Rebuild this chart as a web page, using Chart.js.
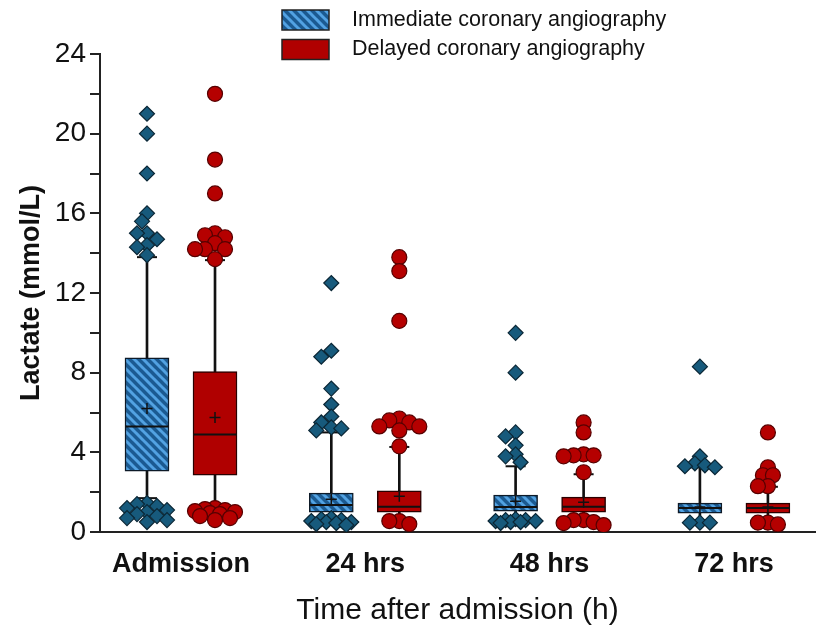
<!DOCTYPE html>
<html><head><meta charset="utf-8">
<style>html,body{margin:0;padding:0;background:#fff;}</style>
<script src="https://cdn.jsdelivr.net/npm/chart.js@4.4.0/dist/chart.umd.min.js"></script>
</head><body>
<canvas id="c" width="816" height="630"></canvas>
<script>
const categories = ['Admission', '24 hrs', '48 hrs', '72 hrs'];
const seriesNames = ['Immediate coronary angiography', 'Delayed coronary angiography'];
const yTickLabels = [0, 4, 8, 12, 16, 20, 24];

// Immediate coronary angiography
const immQ1 = [3.05, 1.0, 1.05, 0.95];
const immMedian = [5.3, 1.35, 1.25, 1.2];
const immQ3 = [8.75, 1.95, 1.85, 1.45];
const immWhiskerLow = [1.7, 0.75, 0.7, 0.6];
const immWhiskerHigh = [13.8, 5.0, 3.3, 3.25];
const immMean = [6.2, 1.65, 1.55, 1.25];
const immOutliers = [
  [21, 20, 18, 16, 15.6, 15, 15, 14.7, 14.4, 14.3, 13.9, 1.45, 1.4, 1.3, 1.2, 1.1, 1.0, 0.9, 0.8, 0.7, 0.6, 0.5],
  [12.5, 9.1, 8.8, 7.2, 6.4, 5.8, 5.5, 5.25, 5.2, 5.1, 0.7, 0.65, 0.6, 0.55, 0.5, 0.5, 0.45, 0.4, 0.35],
  [10, 8, 5.0, 4.8, 4.35, 3.9, 3.8, 3.5, 0.65, 0.6, 0.6, 0.55, 0.55, 0.5, 0.5, 0.45],
  [8.3, 3.8, 3.45, 3.35, 3.3, 3.25, 0.47, 0.47, 0.47]
];

// Delayed coronary angiography
const delQ1 = [2.85, 1.0, 1.0, 0.95];
const delMedian = [4.9, 1.27, 1.27, 1.2];
const delQ3 = [8.05, 2.07, 1.75, 1.45];
const delWhiskerLow = [1.25, 0.7, 0.7, 0.6];
const delWhiskerHigh = [13.65, 4.27, 2.9, 2.27];
const delMean = [5.75, 1.8, 1.5, 1.25];
const delOutliers = [
  [22, 18.7, 17, 15, 14.9, 14.8, 14.5, 14.2, 14.2, 14.2, 13.7, 1.2, 1.15, 1.1, 1.05, 1.0, 0.95, 0.9, 0.8, 0.7, 0.6],
  [13.8, 13.1, 10.6, 5.7, 5.6, 5.5, 5.3, 5.3, 5.1, 4.3, 0.55, 0.55, 0.4],
  [5.5, 5.0, 3.9, 3.85, 3.85, 3.8, 3.0, 0.6, 0.6, 0.5, 0.45, 0.35],
  [5.0, 3.25, 2.85, 2.85, 2.3, 2.3, 0.47, 0.47, 0.38]
];

// ---- layout / style (not data) ----
const FONT = '"Liberation Sans", Arial, sans-serif';
const X_MIN = -0.4395, X_MAX = 3.44;
const SHIFT = 0.1845;               // half distance between the two boxes of a group
const PX_X = 715 / (X_MAX - X_MIN); // approx px per x unit
const PX_Y = 478 / 24;              // approx px per y unit
const MAX_OFF = 22;                 // px, swarm spread limit (half box width)

const cv = document.getElementById('c');
const ctx = cv.getContext('2d');

function makeHatch() {
  const s = 9;
  const c = document.createElement('canvas');
  c.width = s; c.height = s;
  const g = c.getContext('2d');
  g.fillStyle = '#1b5a91';
  g.fillRect(0, 0, s, s);
  g.strokeStyle = '#52a2e2';
  g.lineWidth = 3;
  for (const k of [-1, 0, 1]) {
    g.beginPath();
    g.moveTo(k * s - 1, -1);
    g.lineTo(k * s + s + 1, s + 1);
    g.stroke();
  }
  return ctx.createPattern(c, 'repeat');
}
const hatch = makeHatch();
const RED = '#b00000';

// simple deterministic beeswarm placement for outliers
function swarm(values, center, diam, step) {
  const placed = [];
  const out = [];
  values.forEach(v => {
    const py = v * PX_Y;
    let best = null, bestD = -1;
    for (let k = 0; ; k++) {
      const off = (k === 0 ? 0 : (k % 2 ? -1 : 1) * Math.ceil(k / 2)) * step;
      if (Math.abs(off) > MAX_OFF) break;
      const d = placed.length ? Math.min(...placed.map(p => Math.hypot(p.x - off, p.y - py))) : Infinity;
      if (d >= diam) { best = off; break; }
      if (d > bestD) { bestD = d; best = off; }
    }
    placed.push({x: best, y: py});
    out.push({x: center + best / PX_X, y: v});
  });
  return out;
}

function groupX(i, s) { return i + (s === 0 ? -SHIFT : SHIFT); }

const series = [
  {q1: immQ1, med: immMedian, q3: immQ3, wl: immWhiskerLow, wh: immWhiskerHigh, mean: immMean, out: immOutliers,
   box: hatch, border: '#0d1a28', pt: 'rectRot', ptFill: '#175a7c', ptBorder: '#0b2736', ptR: 7.5},
  {q1: delQ1, med: delMedian, q3: delQ3, wl: delWhiskerLow, wh: delWhiskerHigh, mean: delMean, out: delOutliers,
   box: RED, border: '#2a0000', pt: 'circle', ptFill: '#b50000', ptBorder: '#560000', ptR: 7.5}
];

const datasets = [];
series.forEach((S, s) => {
  datasets.push({
    type: 'bar', order: 6, grouped: false, barThickness: 2,
    backgroundColor: '#111', borderWidth: 0,
    data: categories.map((_, i) => ({x: groupX(i, s), y: [S.wl[i], S.wh[i]]}))
  });
  datasets.push({
    type: 'scatter', order: 5, pointStyle: 'line', pointRadius: 10, borderColor: '#111', borderWidth: 2,
    data: categories.flatMap((_, i) => [{x: groupX(i, s), y: S.wl[i]}, {x: groupX(i, s), y: S.wh[i]}])
  });
  datasets.push({
    type: 'bar', order: 4, grouped: false, barThickness: 44,
    backgroundColor: S.box, borderColor: S.border, borderWidth: 1.5, borderSkipped: false,
    data: categories.map((_, i) => ({x: groupX(i, s), y: [S.q1[i], S.q3[i]]}))
  });
  datasets.push({
    type: 'scatter', order: 3, pointStyle: 'line', pointRadius: 21.5, borderColor: '#111', borderWidth: 2,
    data: categories.map((_, i) => ({x: groupX(i, s), y: S.med[i]}))
  });
  datasets.push({
    type: 'scatter', order: 3, pointStyle: 'cross', pointRadius: 5.5, borderColor: '#111', borderWidth: 1.5,
    data: categories.map((_, i) => ({x: groupX(i, s), y: S.mean[i]}))
  });
  datasets.push({
    type: 'scatter', order: 1, pointStyle: S.pt, pointRadius: S.ptR,
    backgroundColor: S.ptFill, borderColor: S.ptBorder, borderWidth: 1.2,
    data: categories.flatMap((_, i) => swarm(S.out[i], groupX(i, s), 8, 5))
  });
});

const legendPlugin = {
  id: 'customLegend',
  afterDraw(chart) {
    const c = chart.ctx;
    c.save();
    [{fill: hatch, text: seriesNames[0]}, {fill: RED, text: seriesNames[1]}].forEach((it, i) => {
      const y = 10 + i * 29.5;
      c.fillStyle = it.fill;
      c.fillRect(282, y, 47, 20);
      c.strokeStyle = '#222';
      c.lineWidth = 1.5;
      c.strokeRect(282, y, 47, 20);
      c.fillStyle = '#111';
      c.font = '21.5px ' + FONT;
      c.textBaseline = 'middle';
      c.textAlign = 'left';
      c.fillText(it.text, 352, y + 10);
    });
    c.restore();
  }
};

new Chart(ctx, {
  type: 'bar',
  data: {datasets},
  options: {
    responsive: false,
    animation: false,
    events: [],
    layout: {autoPadding: false, padding: {top: 54, left: 0, right: 1, bottom: 0}},
    plugins: {legend: {display: false}, tooltip: {enabled: false}},
    scales: {
      x: {
        type: 'linear', min: X_MIN, max: X_MAX, offset: false, bounds: 'data',
        grid: {display: false, offset: false},
        border: {display: true, color: '#222', width: 2},
        afterBuildTicks(s) { s.ticks = categories.map((_, i) => ({value: i})); },
        ticks: {
          callback: v => categories[v] ?? '',
          font: {size: 27, weight: 'bold', family: FONT}, color: '#111', padding: 8,
          autoSkip: false, maxRotation: 0
        },
        title: {display: true, text: 'Time after admission (h)', font: {size: 30, family: FONT}, color: '#111',
          padding: {top: 0, bottom: 1}},
        afterFit(s) { s.height = 98; s.paddingLeft = 0; s.paddingRight = 0; }
      },
      y: {
        min: 0, max: 24,
        afterBuildTicks(s) {
          const t = [];
          for (let v = 0; v <= 24; v += 2) t.push({value: v});
          s.ticks = t;
        },
        ticks: {
          callback: v => yTickLabels.includes(v) ? String(v) : '',
          font: {size: 28, family: FONT}, color: '#111', padding: 4
        },
        grid: {display: true, drawOnChartArea: false, drawTicks: true, tickLength: 10, color: '#222', lineWidth: 2},
        border: {display: true, color: '#222', width: 2},
        title: {display: true, text: 'Lactate (mmol/L)', font: {size: 27, weight: 'bold', family: FONT}, color: '#111',
          padding: {top: 15, bottom: 0}},
        afterFit(s) { s.width = 100; }
      }
    }
  },
  plugins: [legendPlugin]
});
</script>
</body></html>
